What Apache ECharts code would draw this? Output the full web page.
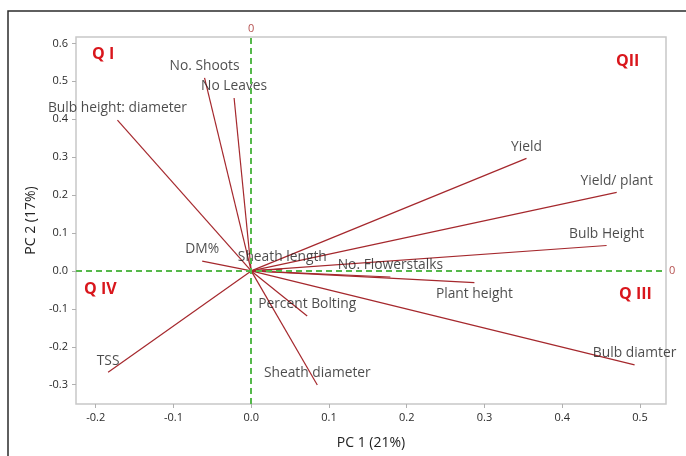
<!DOCTYPE html>
<html>
<head>
<meta charset="utf-8">
<script src="https://cdn.jsdelivr.net/npm/echarts@6/dist/echarts.min.js"></script>
<style>
html,body{margin:0;padding:0;background:#fff;}
#chart{width:686px;height:456px;}
</style>
</head>
<body>
<div id="chart"></div>
<script>
// Variable names (loadings)
var variables = ["Bulb height: diameter","No. Shoots","No Leaves","DM%","Sheath length","No. Flowerstalks","Yield","Yield/ plant","Bulb Height","Plant height","Bulb diamter","Percent Bolting","Sheath diameter","TSS"];
// PC1 loadings
var pc1 = [-0.172,-0.060,-0.022,-0.063,0.040,0.179,0.354,0.470,0.457,0.287,0.493,0.072,0.085,-0.184];
// PC2 loadings
var pc2 = [0.398,0.509,0.456,0.026,0.005,-0.016,0.297,0.207,0.067,-0.031,-0.248,-0.119,-0.301,-0.267];
// Tick labels
var xTicks = [-0.2,-0.1,0.0,0.1,0.2,0.3,0.4,0.5];
var yTicks = [-0.3,-0.2,-0.1,0.0,0.1,0.2,0.3,0.4,0.5,0.6];
var xTitle = "PC 1 (21%)";
var yTitle = "PC 2 (17%)";
var quadrants = ["Q I","QII","Q IV","Q III"];

var FONT = "Open Sans";
var chart = echarts.init(document.getElementById('chart'));

var vecData = variables.map(function(n,i){ return {name:n, coords:[[0,0],[pc1[i],pc2[i]]]}; });
var labData = variables.map(function(n,i){
  var d = {name:n, value:[pc1[i],pc2[i]]};
  if (n === "Plant height") d.label = {position:'bottom', offset:[-6,0]};
  return d;
});

var option = {
  animation:false,
  backgroundColor:'#fff',
  grid:{left:76, right:20, top:37, bottom:52, show:true, borderColor:'#c8c8c8', borderWidth:1.5, containLabel:false},
  xAxis:{
    type:'value', min:-0.2253, max:0.5334,
    name:xTitle, nameLocation:'middle', nameGap:32,
    nameTextStyle:{fontFamily:FONT, fontSize:14, color:'#222'},
    axisLine:{show:false, onZero:false},
    splitLine:{show:false},
    axisTick:{show:true, length:4, lineStyle:{color:'#b0b0b0'}, customValues:xTicks},
    axisLabel:{margin:8, fontFamily:FONT, fontSize:11, color:'#2a2a2a', customValues:xTicks,
      formatter:function(v){return v.toFixed(1);}}
  },
  yAxis:{
    type:'value', min:-0.351, max:0.617,
    name:yTitle, nameLocation:'middle', nameGap:37,
    nameTextStyle:{fontFamily:FONT, fontSize:14, color:'#222'},
    axisLine:{show:false, onZero:false},
    splitLine:{show:false},
    axisTick:{show:true, length:4, lineStyle:{color:'#b0b0b0'}, customValues:yTicks},
    axisLabel:{margin:8, fontFamily:FONT, fontSize:11, color:'#2a2a2a', customValues:yTicks,
      formatter:function(v){return v.toFixed(1);}}
  },
  graphic:[
    {type:'polyline', shape:{points:[[8,470],[8,11],[700,11]]}, style:{stroke:'#2b2b2b', lineWidth:1.5, fill:null}},
    {type:'text', left:92, top:46, style:{text:quadrants[0], fill:'#d9161c', font:'bold 16px "'+FONT+'"'}},
    {type:'text', left:616, top:53, style:{text:quadrants[1], fill:'#d9161c', font:'bold 16px "'+FONT+'"'}},
    {type:'text', left:84, top:281, style:{text:quadrants[2], fill:'#d9161c', font:'bold 16px "'+FONT+'"'}},
    {type:'text', left:619, top:286, style:{text:quadrants[3], fill:'#d9161c', font:'bold 16px "'+FONT+'"'}}
  ],
  series:[
    {
      type:'scatter', data:[], z:1, silent:true,
      markLine:{
        silent:true, symbol:'none', animation:false,
        lineStyle:{color:'#55b84a', type:[6,4], width:2},
        label:{show:true, position:'end', formatter:'0', color:'#b5504f', fontFamily:FONT, fontSize:11, distance:3},
        data:[{xAxis:0},{yAxis:0}]
      }
    },
    {
      type:'lines', coordinateSystem:'cartesian2d', z:3, silent:true,
      lineStyle:{color:'#a5282d', width:1.2, opacity:1},
      data:vecData
    },
    {
      type:'scatter', z:4, silent:true, symbolSize:1, itemStyle:{color:'rgba(0,0,0,0)'},
      label:{show:true, position:'top', distance:4, formatter:'{b}', fontFamily:FONT, fontSize:13.8, color:'#1e1e1e'},
      labelLayout:{hideOverlap:false},
      data:labData
    }
  ]
};
chart.setOption(option);
</script>
</body>
</html>
